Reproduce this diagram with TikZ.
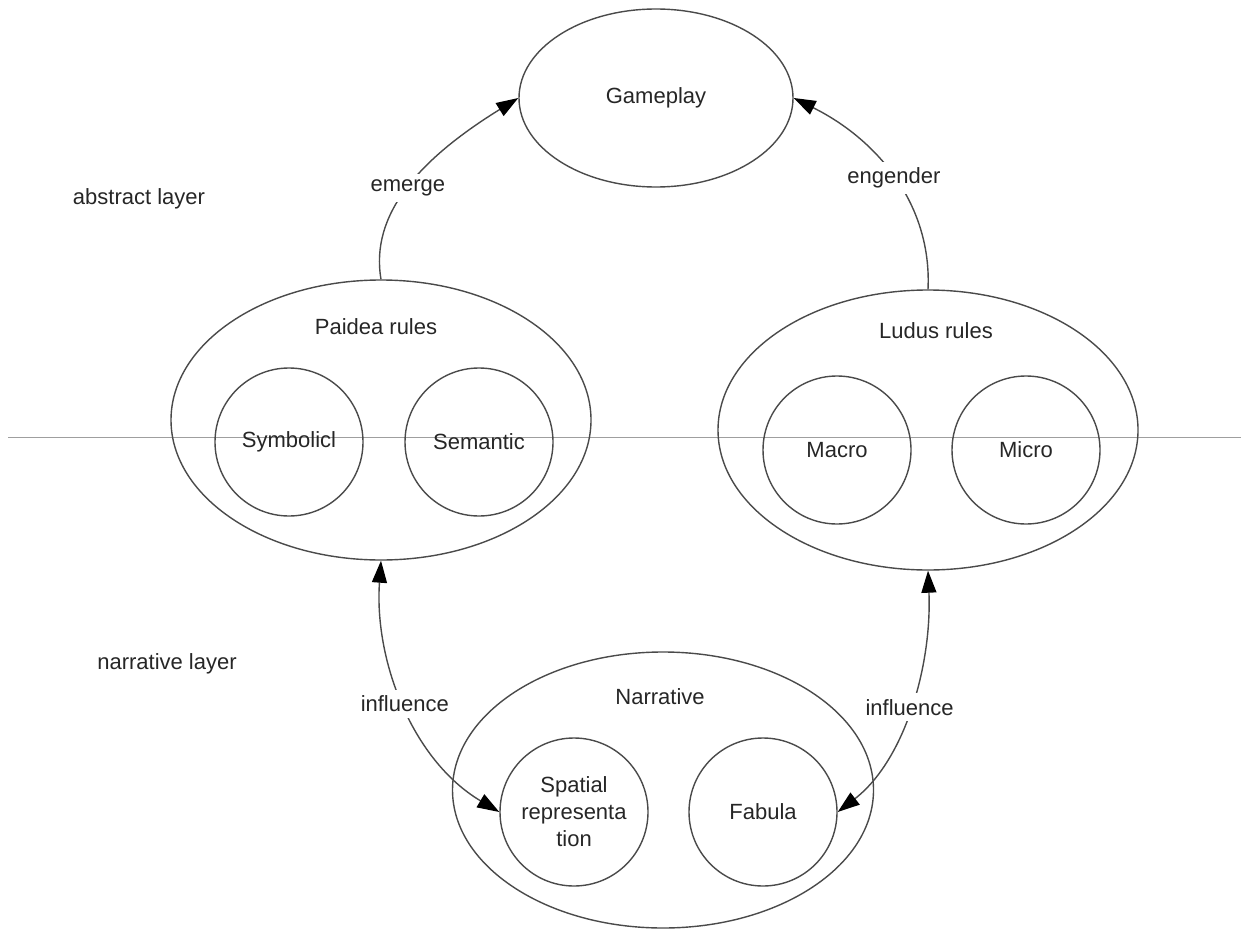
\documentclass[tikz,border=0pt]{standalone}
\usepackage{fontspec}
\setmainfont{Liberation Sans}
\usetikzlibrary{shapes.geometric,arrows.meta}
\definecolor{strokegray}{HTML}{4A4A4A}
\definecolor{txtgray}{HTML}{262626}
\tikzset{
  big/.style={draw=strokegray, line width=0.7pt, ellipse, inner sep=0pt,
              minimum width=210pt, minimum height=140pt},
  sub/.style={draw=strokegray, line width=0.7pt, circle, inner sep=0pt,
              minimum size=74pt, align=center, text=txtgray},
  lbl/.style={text=txtgray, inner sep=0pt},
  conn/.style={draw=strokegray, line width=0.7pt},
  tip/.style={-{Triangle[length=11pt,width=7.5pt,color=black,fill=black]}},
  dtip/.style={{Triangle[length=11pt,width=7.5pt,color=black,fill=black]}-{Triangle[length=11pt,width=7.5pt,color=black,fill=black]}},
  onlbl/.style={fill=white, text=txtgray, inner sep=3pt}
}
\begin{document}
\begin{tikzpicture}[x=0.5pt,y=-0.5pt,font=\fontsize{11}{13.5}\selectfont]
\useasboundingbox (0,0) rectangle (1241,931);
% layer divider
\coordinate (hl) at (8,437);
\coordinate (hr) at (1241,437);
\draw[gray!75, line width=0.5pt] (hl) -- (hr);
% nodes
\node[draw=strokegray, line width=0.7pt, ellipse, inner sep=0pt,
      minimum width=137pt, minimum height=89pt, text=txtgray] (gameplay) at (656,98) {Gameplay};
\node[big] (paidea) at (381,420) {};
\node[lbl] (paidealbl) at (376,327) {Paidea rules};
\node[sub] (symb) at (289,442) {Symbolicl};
\node[sub] (sem) at (479,442) {Semantic};
\node[big] (ludus) at (928,430) {};
\node[lbl] (luduslbl) at (936,331) {Ludus rules};
\node[sub] (macro) at (837,450) {Macro};
\node[sub] (micro) at (1026,450) {Micro};
\node[big, minimum width=210.5pt, minimum height=138pt] (narr) at (663,790) {};
\node[lbl] (narrlbl) at (660,697) {Narrative};
\node[sub] (spatial) at (574,812) {Spatial\\representa\\tion};
\node[sub] (fabula) at (763,812) {Fabula};
\node[lbl] (abs) at (139,199) {abstract layer};
\node[lbl] (nar) at (167,664) {narrative layer};
% connectors
\draw[conn, tip] (paidea.north) .. controls (370,215) and (418,160) .. node[onlbl, pos=0.5] {emerge} (gameplay.west);
\draw[conn, tip] (ludus.north) .. controls (932,205) and (878,140) .. node[onlbl, pos=0.5] {engender} (gameplay.east);
\draw[conn, dtip] (paidea.south) .. controls (374,660) and (412,760) .. node[onlbl, pos=0.5] {influence} (spatial.west);
\draw[conn, dtip] (ludus.south) .. controls (932,665) and (905,760) .. node[onlbl, pos=0.5] {influence} (fabula.east);
\end{tikzpicture}
\end{document}
